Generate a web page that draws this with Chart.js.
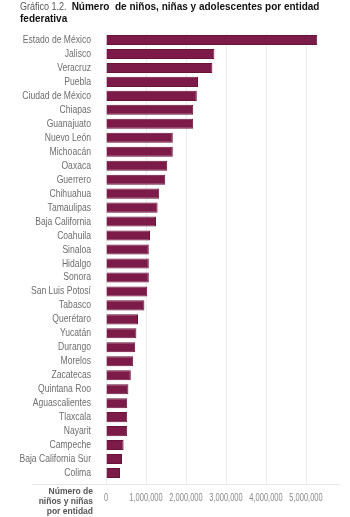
<!DOCTYPE html>
<html>
<head>
<meta charset="utf-8">
<script src="https://cdn.jsdelivr.net/npm/chart.js@4/dist/chart.umd.min.js"></script>
<style>
  html, body { margin: 0; padding: 0; background: #fff; }
  #wrap { position: relative; width: 350px; height: 517px; overflow: hidden; }
  #title { position: absolute; left: 20px; top: 1px; width: 325px; font-family: "Liberation Sans", Arial, sans-serif; font-size: 10px; line-height: 11.5px; color: #111; }
  #title .lead { display: inline-block; color: #555; font-weight: normal; font-size: 11px; transform: scaleX(0.82); transform-origin: left center; margin-right: -8px; }
  #title b { font-weight: bold; }
  #xlab { position: absolute; left: 0; top: 486px; width: 93px; text-align: right; font-family: "Liberation Sans", Arial, sans-serif; font-weight: bold; font-size: 8.5px; line-height: 10.2px; color: #555; }
  canvas { position: absolute; left: 0; top: 0; }
</style>
</head>
<body>
<div id="wrap">
  <canvas id="c" width="350" height="517"></canvas>
  <div id="title"><span class="lead">Gráfico 1.2.</span> <b>Número &nbsp;de niños, niñas y adolescentes por entidad federativa</b></div>
  <div id="xlab">Número de<br>niños y niñas<br>por entidad</div>
</div>
<script>
const estados = ["Estado de México","Jalisco","Veracruz","Puebla","Ciudad de México","Chiapas","Guanajuato","Nuevo León","Michoacán","Oaxaca","Guerrero","Chihuahua","Tamaulipas","Baja California","Coahuila","Sinaloa","Hidalgo","Sonora","San Luis Potosí","Tabasco","Querétaro","Yucatán","Durango","Morelos","Zacatecas","Quintana Roo","Aguascalientes","Tlaxcala","Nayarit","Campeche","Baja California Sur","Colima"];
const poblacion = [5280000,2710000,2660000,2300000,2270000,2180000,2180000,1670000,1670000,1530000,1480000,1330000,1290000,1250000,1100000,1070000,1070000,1070000,1030000,960000,800000,760000,730000,680000,620000,560000,530000,530000,530000,440000,400000,350000];
const tickValues = [0,1000000,2000000,3000000,4000000,5000000];

// Draw axis labels narrower (condensed look) by scaling each label around its anchor
function condense(scale, k) {
  if (scale._condensed) return;
  scale._condensed = true;
  const orig = scale.drawLabels.bind(scale);
  scale.drawLabels = function (area) {
    const ctx = this.ctx;
    const ft = ctx.fillText;
    ctx.fillText = function (t, x, y) {
      this.save();
      this.translate(x, y);
      this.scale(k, 1);
      ft.call(this, t, 0, 0);
      this.restore();
    };
    try { orig(area); } finally { ctx.fillText = ft; }
  };
}

const styling = {
  id: 'styling',
  beforeDraw(chart) {
    condense(chart.scales.y, 0.78);
    condense(chart.scales.x, 0.68);
  },
  afterDraw(chart) {
    const ctx = chart.ctx, a = chart.chartArea;
    ctx.save();
    ctx.strokeStyle = '#e6e6e6';
    ctx.lineWidth = 1;
    ctx.beginPath();
    ctx.moveTo(32, a.bottom + 4.5);
    ctx.lineTo(340, a.bottom + 4.5);
    ctx.stroke();
    ctx.restore();
  }
};

new Chart(document.getElementById('c'), {
  type: 'bar',
  data: {
    labels: estados,
    datasets: [{
      data: poblacion,
      backgroundColor: '#7c1a48',
      borderColor: '#6a1339',
      borderWidth: 1,
      barPercentage: 0.72,
      categoryPercentage: 1.0
    }]
  },
  options: {
    indexAxis: 'y',
    responsive: false,
    animation: false,
    layout: { padding: { top: 33, right: 10, bottom: 1, left: 0 } },
    plugins: { legend: { display: false }, tooltip: { enabled: false } },
    scales: {
      x: {
        min: 0,
        max: 5850000,
        afterBuildTicks(axis) { axis.ticks = tickValues.map(v => ({ value: v })); },
        afterFit(axis) { axis.height = 36; },
        border: { display: false },
        grid: { color: '#ececec', lineWidth: 1, drawTicks: true, tickLength: 4, tickColor: '#ececec' },
        ticks: {
          padding: 7.5,
          color: '#888',
          maxRotation: 0,
          minRotation: 0,
          autoSkip: false,
          font: { family: '"Liberation Sans", sans-serif', size: 11 },
          callback: v => Number(v).toLocaleString('en-US')
        }
      },
      y: {
        afterFit(axis) { axis.width = 106; },
        border: { display: false },
        grid: { display: false, drawTicks: false },
        ticks: {
          padding: 15,
          color: '#6e6e6e',
          autoSkip: false,
          font: { family: '"Liberation Sans", sans-serif', size: 11 }
        }
      }
    }
  },
  plugins: [styling]
});
</script>
</body>
</html>
